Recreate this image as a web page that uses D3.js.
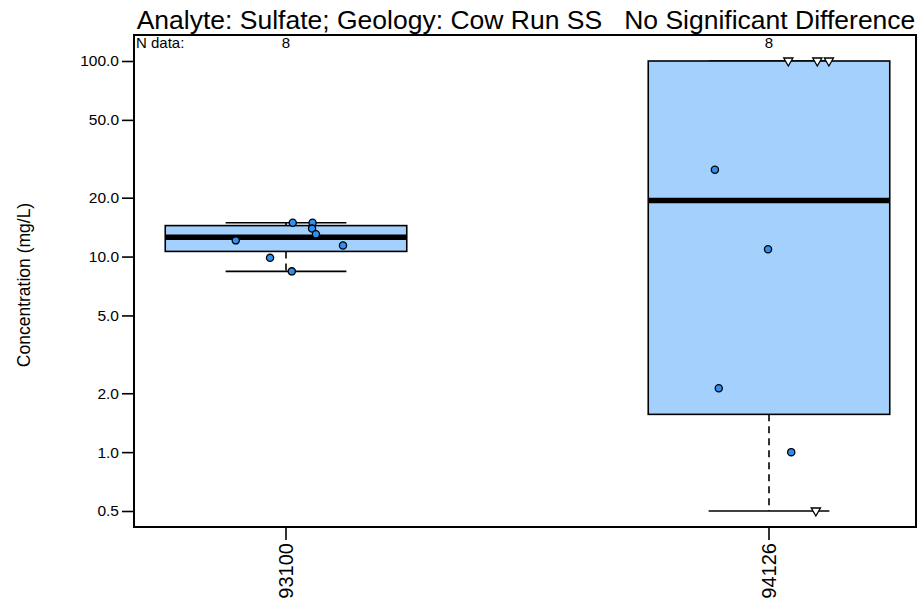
<!DOCTYPE html>
<html>
<head>
<meta charset="utf-8">
<script src="https://cdn.jsdelivr.net/npm/d3@7"></script>
<style>
body { margin: 0; background: #fff; }
svg text { font-family: "Liberation Sans", Arial, Helvetica, sans-serif; fill: #000; }
</style>
</head>
<body>
<script>
// Sites and counts
const sites = ["93100", "94126"];
const nData = [8, 8];

// Concentrations (mg/L), with the jitter used for the points
const conc93100 = [14.9, 14.9, 13.9, 13.0, 12.1, 11.4, 9.85, 8.4];
const jitter93100 = [0.014, 0.055, 0.054, 0.062, -0.104, 0.118, -0.033, 0.012];
const nd93100 = [false, false, false, false, false, false, false, false];

const conc94126 = [100, 100, 100, 27.8, 10.9, 2.12, 1.0, 0.5];
const jitter94126 = [0.04, 0.1, 0.124, -0.112, -0.002, -0.104, 0.046, 0.097];
const nd94126 = [true, true, true, false, false, false, false, true];

const yTicks = [0.5, 1, 2, 5, 10, 20, 50, 100];
const titleText = "Analyte: Sulfate; Geology: Cow Run SS   No Significant Difference";

const groups = [
    { site: sites[0], n: nData[0], conc: conc93100, jit: jitter93100, nd: nd93100 },
    { site: sites[1], n: nData[1], conc: conc94126, jit: jitter94126, nd: nd94126 }
];

const width = 920, height = 604;
const frame = { left: 134, right: 916, top: 35, bottom: 527 };

const svg = d3.select("body").append("svg")
    .attr("width", width)
    .attr("height", height);

const x = d3.scaleLinear().domain([0, 1]).range([286, 769]);
const y = d3.scaleLog().domain([0.5, 100]).range([511, 61]);
const unit = x(1) - x(0);

// R style five number summary
function fivenum(v) {
    const s = v.slice().sort(d3.ascending), n = s.length;
    const n4 = Math.floor((n + 3) / 2) / 2;
    return [1, n4, (n + 1) / 2, n + 1 - n4, n]
        .map(i => 0.5 * (s[Math.floor(i) - 1] + s[Math.ceil(i) - 1]));
}

groups.forEach(g => {
    const f = fivenum(g.conc);
    const lq = Math.log10(f[1]), uq = Math.log10(f[3]), iqr = uq - lq;
    const inside = g.conc.filter(v => Math.log10(v) >= lq - 1.5 * iqr && Math.log10(v) <= uq + 1.5 * iqr);
    g.stats = { q1: f[1], med: f[2], q3: f[3], lo: d3.min(inside), hi: d3.max(inside) };
});

const boxes = svg.append("g").selectAll("g")
    .data(groups)
    .enter().append("g");

// whiskers (dashed)
boxes.append("line")
    .attr("x1", (d, i) => x(i)).attr("x2", (d, i) => x(i))
    .attr("y1", d => y(d.stats.q1)).attr("y2", d => y(d.stats.lo))
    .attr("stroke", "#000").attr("stroke-width", 1.6).attr("stroke-dasharray", "7,5");
boxes.append("line")
    .attr("x1", (d, i) => x(i)).attr("x2", (d, i) => x(i))
    .attr("y1", d => y(d.stats.q3)).attr("y2", d => y(d.stats.hi))
    .attr("stroke", "#000").attr("stroke-width", 1.6).attr("stroke-dasharray", "7,5");

// staples
["lo", "hi"].forEach(k => {
    boxes.append("line")
        .attr("x1", (d, i) => x(i) - unit * 0.125).attr("x2", (d, i) => x(i) + unit * 0.125)
        .attr("y1", d => y(d.stats[k])).attr("y2", d => y(d.stats[k]))
        .attr("stroke", "#000").attr("stroke-width", 1.6);
});

// boxes
boxes.append("rect")
    .attr("x", (d, i) => x(i) - unit * 0.25)
    .attr("width", unit * 0.5)
    .attr("y", d => y(d.stats.q3))
    .attr("height", d => y(d.stats.q1) - y(d.stats.q3))
    .attr("fill", "#a3d0fc")
    .attr("stroke", "#000")
    .attr("stroke-width", 1.6);

// medians
boxes.append("line")
    .attr("x1", (d, i) => x(i) - unit * 0.25).attr("x2", (d, i) => x(i) + unit * 0.25)
    .attr("y1", d => y(d.stats.med)).attr("y2", d => y(d.stats.med))
    .attr("stroke", "#000").attr("stroke-width", 5.5);

// points
const pts = [];
groups.forEach((g, i) => g.conc.forEach((v, j) => pts.push({ gx: i + g.jit[j], v: v, nd: g.nd[j] })));

svg.append("g").selectAll("circle")
    .data(pts.filter(d => !d.nd))
    .enter().append("circle")
    .attr("cx", d => x(d.gx))
    .attr("cy", d => y(d.v))
    .attr("r", 3.6)
    .attr("fill", "#2d8ff0")
    .attr("stroke", "#000")
    .attr("stroke-width", 1.3);

svg.append("g").selectAll("path")
    .data(pts.filter(d => d.nd))
    .enter().append("path")
    .attr("transform", d => `translate(${x(d.gx)},${y(d.v)})`)
    .attr("d", "M-4.6,-3L4.6,-3L0,5Z")
    .attr("fill", "#fff")
    .attr("stroke", "#000")
    .attr("stroke-width", 1.3);

// frame
svg.append("rect")
    .attr("x", frame.left).attr("y", frame.top)
    .attr("width", frame.right - frame.left)
    .attr("height", frame.bottom - frame.top)
    .attr("fill", "none")
    .attr("stroke", "#000")
    .attr("stroke-width", 2);

// y axis
const yAxis = svg.append("g")
    .attr("transform", `translate(${frame.left},0)`)
    .call(d3.axisLeft(y).tickValues(yTicks).tickFormat(d3.format(".1f")).tickSize(12).tickPadding(3));
yAxis.select(".domain").remove();
yAxis.selectAll("line").attr("stroke-width", 1.6);
yAxis.selectAll("text").attr("font-size", 15.5).style("font-family", "Liberation Sans, Arial, sans-serif");

// x axis
const xTick = svg.append("g").selectAll("g")
    .data(groups)
    .enter().append("g");
xTick.append("line")
    .attr("x1", (d, i) => x(i)).attr("x2", (d, i) => x(i))
    .attr("y1", frame.bottom).attr("y2", frame.bottom + 13)
    .attr("stroke", "#000").attr("stroke-width", 1.6);
xTick.append("text")
    .attr("transform", (d, i) => `translate(${x(i)},${frame.bottom + 16}) rotate(-90)`)
    .attr("text-anchor", "end")
    .attr("dy", "0.35em")
    .attr("font-size", 20)
    .text(d => d.site);

// y axis title
svg.append("text")
    .attr("transform", "translate(30,285) rotate(-90)")
    .attr("text-anchor", "middle")
    .attr("font-size", 17.5)
    .text("Concentration (mg/L)");

// title
svg.append("text")
    .attr("x", (frame.left + frame.right) / 2 + 1)
    .attr("y", 29)
    .attr("text-anchor", "middle")
    .attr("font-size", 26.5)
    .style("white-space", "pre")
    .text(titleText);

// counts
svg.append("text")
    .attr("x", frame.left + 2)
    .attr("y", 48)
    .attr("font-size", 15)
    .text("N data:");
svg.append("g").selectAll("text")
    .data(groups)
    .enter().append("text")
    .attr("x", (d, i) => x(i))
    .attr("y", 48)
    .attr("text-anchor", "middle")
    .attr("font-size", 15)
    .text(d => d.n);
</script>
</body>
</html>
